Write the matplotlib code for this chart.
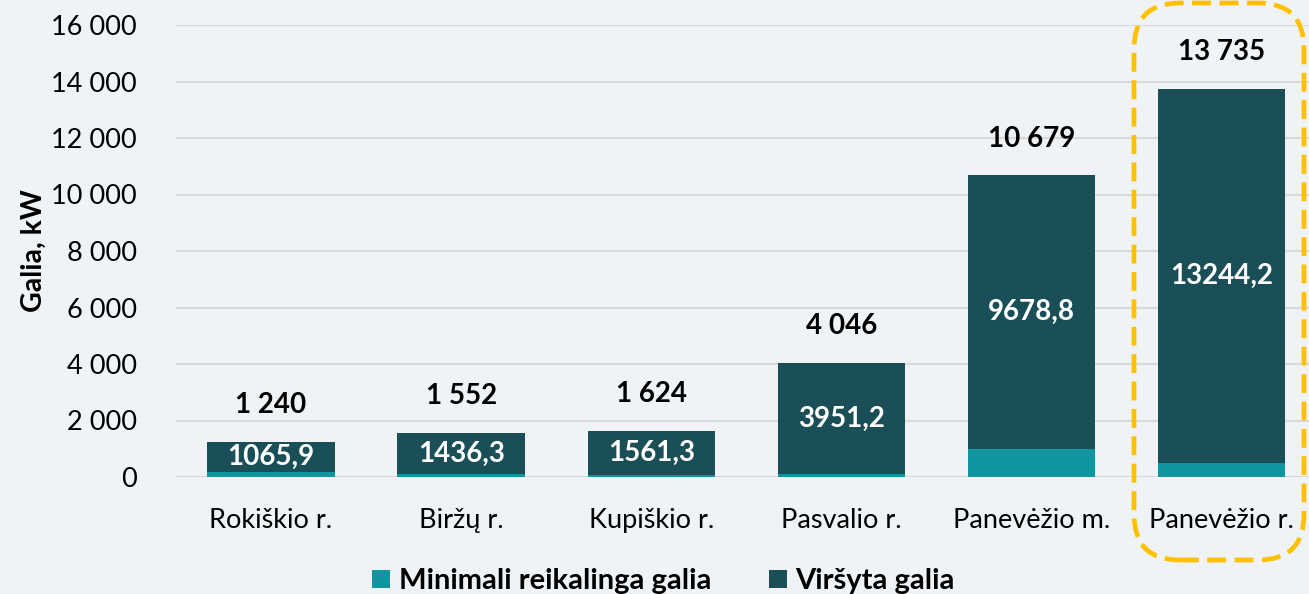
import matplotlib
matplotlib.use('Agg')
import matplotlib.pyplot as plt
from matplotlib.patches import FancyBboxPatch
from matplotlib.ticker import FuncFormatter

# Regions and installed power, kW
regions = ["Rokiškio r.", "Biržų r.", "Kupiškio r.", "Pasvalio r.", "Panevėžio m.", "Panevėžio r."]
minimal = [174.1, 115.7, 62.7, 94.8, 1000.2, 490.8]
exceeded = [1065.9, 1436.3, 1561.3, 3951.2, 9678.8, 13244.2]
y_ticks = [0, 2000, 4000, 6000, 8000, 10000, 12000, 14000, 16000]

BG = '#eff3f6'
C_MIN = '#11959f'
C_EXC = '#1a4f57'
FONT = ['Lato', 'DejaVu Sans']

plt.rcParams['font.family'] = FONT


def space_thousands(v):
    return f"{v:,.0f}".replace(",", " ")


fig = plt.figure(figsize=(13.09, 5.94), dpi=100, facecolor=BG)
ax = fig.add_axes([176 / 1309, 117 / 594, 1133 / 1309, 452 / 594], facecolor=BG)

x = list(range(len(regions)))
totals = [m + e for m, e in zip(minimal, exceeded)]
width = 0.67

ax.bar(x, minimal, width, color=C_MIN, label="Minimali reikalinga galia", zorder=3)
ax.bar(x, exceeded, width, bottom=minimal, color=C_EXC, label="Viršyta galia", zorder=3)

for xi, m, e, t in zip(x, minimal, exceeded, totals):
    ax.text(xi, m + e / 2, f"{e:.1f}".replace(".", ","), ha='center', va='center',
            color='white', fontsize=20, fontweight='bold', zorder=4)
    ax.text(xi, t + 1300, space_thousands(t), ha='center', va='center',
            color='black', fontsize=20, fontweight='bold', zorder=4)

ax.set_xlim(-0.5, 5.46)
ax.set_ylim(0, 16000)
ax.set_yticks(y_ticks)
ax.yaxis.set_major_formatter(FuncFormatter(lambda v, p: space_thousands(v)))
ax.set_xticks(x)
ax.set_xticklabels(regions)
ax.tick_params(axis='both', length=0, labelsize=19.5, colors='black')
ax.tick_params(axis='x', pad=22)
ax.tick_params(axis='y', pad=28)
ax.grid(axis='y', color='#d9d9d9', linewidth=1.5, zorder=0)
for s in ax.spines.values():
    s.set_visible(False)

ax.set_ylabel("Galia, kW", fontsize=20.5, fontweight='bold')
ax.yaxis.set_label_coords(-0.114, 0.5)

# dashed frame around the last region
frame = FancyBboxPatch((1134 / 1309, 34 / 594), 170 / 1309, 557 / 594,
                       boxstyle="round,pad=0,rounding_size=0.035",
                       transform=fig.transFigure, fill=False,
                       edgecolor='#ffc000', linewidth=3.4,
                       linestyle=(0, (4, 1.8)), mutation_aspect=1309 / 594)
fig.patches.append(frame)

leg = fig.legend(loc='lower center', bbox_to_anchor=(0.507, -0.045), ncol=2,
                 frameon=False, handlelength=0.6, handleheight=0.6,
                 handletextpad=0.3, columnspacing=2.0,
                 prop={'family': FONT, 'weight': 'bold', 'size': 21})

fig.savefig('out.png', dpi=100, facecolor=BG)
